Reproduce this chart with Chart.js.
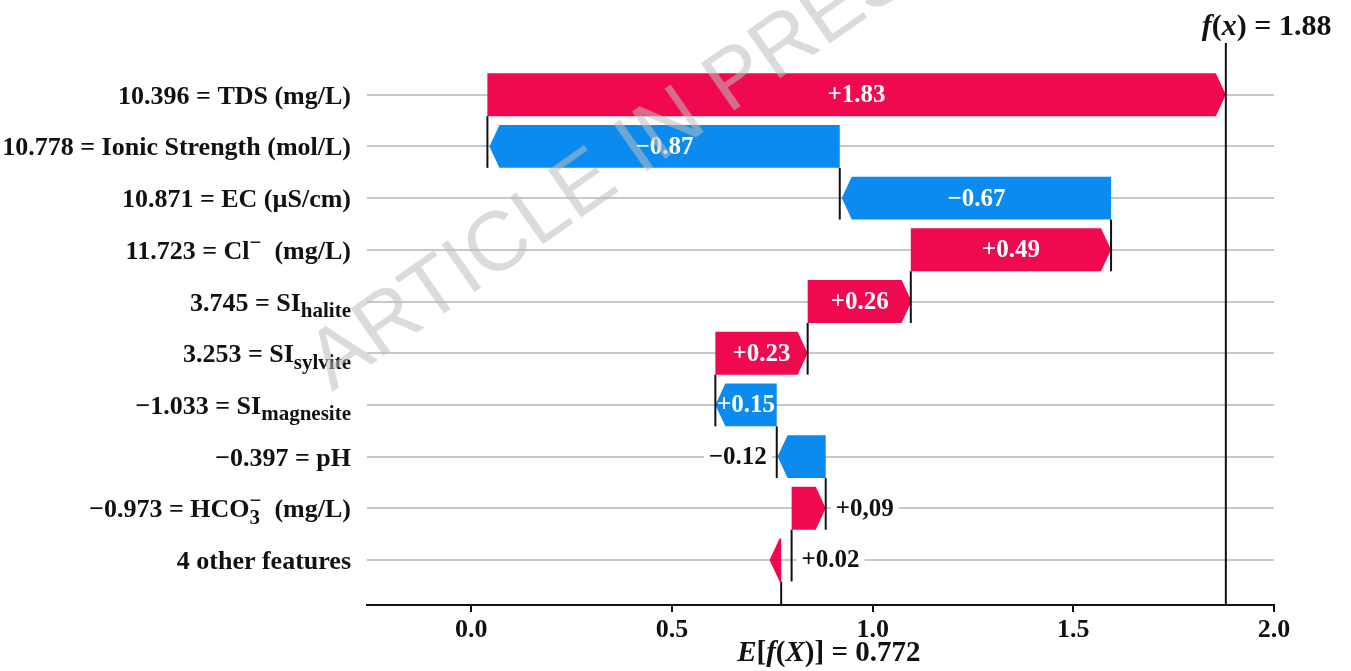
<!DOCTYPE html>
<html lang="en">
<head>
<meta charset="UTF-8">
<title>SHAP waterfall</title>
<script src="https://cdn.jsdelivr.net/npm/chart.js"></script>
<style>
  html, body { margin: 0; padding: 0; background: #fff; }
</style>
</head>
<body>
<canvas id="waterfall" width="1351" height="671"></canvas>
<script>
// feature value shown left of "=", name markup: _{sub} ^{sup}
const featureValues = ['10.396', '10.778', '10.871', '11.723', '3.745', '3.253', '\u22121.033', '\u22120.397', '\u22120.973', ''];
const featureNames = ['TDS (mg/L)', 'Ionic Strength (mol/L)', 'EC (\u00b5S/cm)', 'Cl^{\u2212}  (mg/L)', 'SI_{halite}',
                      'SI_{sylvite}', 'SI_{magnesite}', 'pH', 'HCO_{3}^{\u2212}  (mg/L)', '4 other features'];

// each arrow runs from barFrom to barTo
const barFrom = [0.04, 0.918, 1.594, 1.095, 0.838, 0.608, 0.761, 0.883, 0.798, 0.772];
const barTo   = [1.88, 0.045, 0.923, 1.594, 1.097, 0.838, 0.608, 0.763, 0.883, 0.743];
const barSign = [1, -1, -1, 1, 1, 1, -1, -1, 1, 1];   // 1 = red, -1 = blue
const barText = ['+1.83', '\u22120.87', '\u22120.67', '+0.49', '+0.26', '+0.23', '+0.15', '\u22120.12', '+0,09', '+0.02'];

const xTicks = [0, 0.5, 1.0, 1.5, 2.0];
const baseValue = 0.772;
const fxValue = 1.88;

const RED = '#f0094f';
const BLUE = '#0b8bf0';
const SERIF = '"Liberation Serif", "Times New Roman", serif';

// split "SI_{halite}" into plain / sub / sup pieces
function parseRich(s) {
  const segs = [];
  const re = /([_^])\{([^}]*)\}/g;
  let last = 0, m;
  while ((m = re.exec(s))) {
    if (m.index > last) segs.push({ t: s.slice(last, m.index), mode: 'n' });
    segs.push({ t: m[2], mode: m[1] === '_' ? 'sub' : 'sup' });
    last = re.lastIndex;
  }
  if (last < s.length) segs.push({ t: s.slice(last), mode: 'n' });
  return segs;
}

// draws pieces, returns width; if dry, only measures
function drawPieces(ctx, segs, x, y, size, dry) {
  let cx = x, prev = null, prevStart = x;
  segs.forEach(s => {
    const small = s.mode !== 'n';
    const fs = small ? Math.round(size * 0.8) : size;
    ctx.font = (s.italic ? 'italic ' : '') + 'bold ' + fs + 'px ' + SERIF;
    const w = ctx.measureText(s.t).width;
    let sx = cx;
    if (s.mode === 'sup' && prev && prev.mode === 'sub') sx = prevStart;   // stack over subscript
    const dy = s.mode === 'sub' ? size * 0.25 : s.mode === 'sup' ? -size * 0.38 : 0;
    if (!dry) ctx.fillText(s.t, sx, y + dy);
    cx = Math.max(cx, sx + w);
    prevStart = sx;
    prev = s;
  });
  return cx - x;
}

const waterfallPlugin = {
  id: 'waterfall',
  afterDatasetsDraw(chart) {
    const ctx = chart.ctx;
    const xs = chart.scales.x;
    const area = chart.chartArea;
    const meta = chart.getDatasetMeta(0);
    const px = v => xs.getPixelForValue(v);
    const head = 10;

    ctx.save();
    // arrows
    meta.data.forEach((el, i) => {
      const xf = px(barFrom[i]), xt = px(barTo[i]);
      const h = el.height, yc = el.y;
      const dir = xt > xf ? 1 : -1;
      const hl = Math.min(head, Math.abs(xt - xf) - 1);
      const neck = xt - dir * hl;
      ctx.beginPath();
      ctx.moveTo(xf, yc - h / 2);
      ctx.lineTo(neck, yc - h / 2);
      ctx.lineTo(xt, yc);
      ctx.lineTo(neck, yc + h / 2);
      ctx.lineTo(xf, yc + h / 2);
      ctx.closePath();
      ctx.fillStyle = barSign[i] > 0 ? RED : BLUE;
      ctx.fill();
    });

    // connector lines below each bar, then E[f(X)] and f(x) lines
    ctx.strokeStyle = '#111';
    ctx.lineWidth = 2;
    meta.data.forEach((el, i) => {
      if (i === 0) return;
      const prev = meta.data[i - 1];
      ctx.beginPath();
      ctx.moveTo(px(barFrom[i - 1]), prev.y + prev.height / 2);
      ctx.lineTo(px(barFrom[i - 1]), el.y + el.height / 2);
      ctx.stroke();
    });
    const lastEl = meta.data[meta.data.length - 1];
    ctx.beginPath();
    ctx.moveTo(px(baseValue), lastEl.y + lastEl.height / 2);
    ctx.lineTo(px(baseValue), area.bottom);
    ctx.stroke();
    ctx.beginPath();
    ctx.moveTo(px(fxValue), area.top);
    ctx.lineTo(px(fxValue), area.bottom);
    ctx.stroke();

    // value labels
    ctx.font = 'bold 25px ' + SERIF;
    ctx.textBaseline = 'middle';
    meta.data.forEach((el, i) => {
      const xf = px(barFrom[i]), xt = px(barTo[i]);
      const left = Math.min(xf, xt), right = Math.max(xf, xt);
      const w = ctx.measureText(barText[i]).width;
      const yc = el.y + 1;
      if (w - 2 < right - left) {
        ctx.fillStyle = '#fff';
        ctx.textAlign = 'center';
        ctx.fillText(barText[i], (left + right) / 2, yc);
        return;
      }
      const conn = i > 0 ? px(barFrom[i - 1]) : null;
      let tx;
      if (barSign[i] > 0) {
        tx = Math.max(right, conn === null ? right : conn) + 10;
      } else {
        tx = Math.min(left, conn === null ? left : conn) - 10 - w;
      }
      ctx.fillStyle = '#fff';
      ctx.fillRect(tx - 5, yc - 13, w + 10, 26);
      ctx.fillStyle = '#111';
      ctx.textAlign = 'left';
      ctx.fillText(barText[i], tx, yc);
    });

    // feature labels on the left
    ctx.textBaseline = 'alphabetic';
    ctx.textAlign = 'left';
    ctx.fillStyle = '#111';
    const ys = chart.scales.y;
    featureNames.forEach((name, i) => {
      const label = featureValues[i] ? featureValues[i] + ' = ' + name : name;
      const segs = parseRich(label);
      const w = drawPieces(ctx, segs, 0, 0, 26, true);
      drawPieces(ctx, segs, area.left - 16 - w, ys.getPixelForValue(i) + 9, 26, false);
    });

    // f(x) on top, E[f(X)] below the axis
    const fxSegs = [
      { t: 'f', mode: 'n', italic: true }, { t: '(', mode: 'n' }, { t: 'x', mode: 'n', italic: true },
      { t: ')', mode: 'n' }, { t: ' = ' + fxValue.toFixed(2), mode: 'n' }
    ];
    drawPieces(ctx, fxSegs, px(fxValue) - 24, 35, 30, false);
    const eSegs = [
      { t: 'E', mode: 'n', italic: true }, { t: '[', mode: 'n' }, { t: 'f', mode: 'n', italic: true },
      { t: '(', mode: 'n' }, { t: 'X', mode: 'n', italic: true }, { t: ')]', mode: 'n' },
      { t: ' = ' + baseValue.toFixed(3), mode: 'n' }
    ];
    drawPieces(ctx, eSegs, px(baseValue) - 44, 661, 29, false);

    // watermark
    ctx.translate(332, 392);
    ctx.rotate(-35 * Math.PI / 180);
    ctx.font = '84px "Liberation Sans", Arial, sans-serif';
    ctx.fillStyle = 'rgba(190, 190, 190, 0.55)';
    ctx.fillText('ARTICLE IN PRESS', 0, 0);
    ctx.restore();
  }
};

new Chart(document.getElementById('waterfall'), {
  type: 'bar',
  data: {
    datasets: [{
      data: barFrom.map((f, i) => ({ x: [f, barTo[i]], y: i })),
      backgroundColor: 'rgba(0,0,0,0)',
      borderWidth: 0,
      barPercentage: 0.83,
      categoryPercentage: 1
    }]
  },
  options: {
    indexAxis: 'y',
    responsive: false,
    animation: false,
    layout: { padding: { left: 367, right: 77, top: 43, bottom: 0 } },
    plugins: { legend: { display: false }, tooltip: { enabled: false } },
    scales: {
      x: {
        type: 'linear',
        min: -0.26,
        max: 2.0,
        afterBuildTicks: s => { s.ticks = xTicks.map(v => ({ value: v })); },
        afterFit: s => { s.height = 66; },
        ticks: {
          callback: v => v.toFixed(1),
          color: '#111',
          padding: 3,
          maxRotation: 0,
          font: { family: SERIF, size: 26, weight: 'bold' }
        },
        grid: { drawOnChartArea: false, tickLength: 7, color: '#111', lineWidth: 2 },
        border: { color: '#111', width: 2 }
      },
      y: {
        type: 'linear',
        reverse: true,
        offset: false,
        min: -1,
        max: 9.87,
        afterBuildTicks: s => { s.ticks = featureNames.map((_, i) => ({ value: i })); },
        afterFit: s => { s.width = 0; },
        ticks: { display: false },
        grid: { color: '#c8c8c8', lineWidth: 2, drawTicks: false, offset: false },
        border: { display: false }
      }
    }
  },
  plugins: [waterfallPlugin]
});
</script>
</body>
</html>
